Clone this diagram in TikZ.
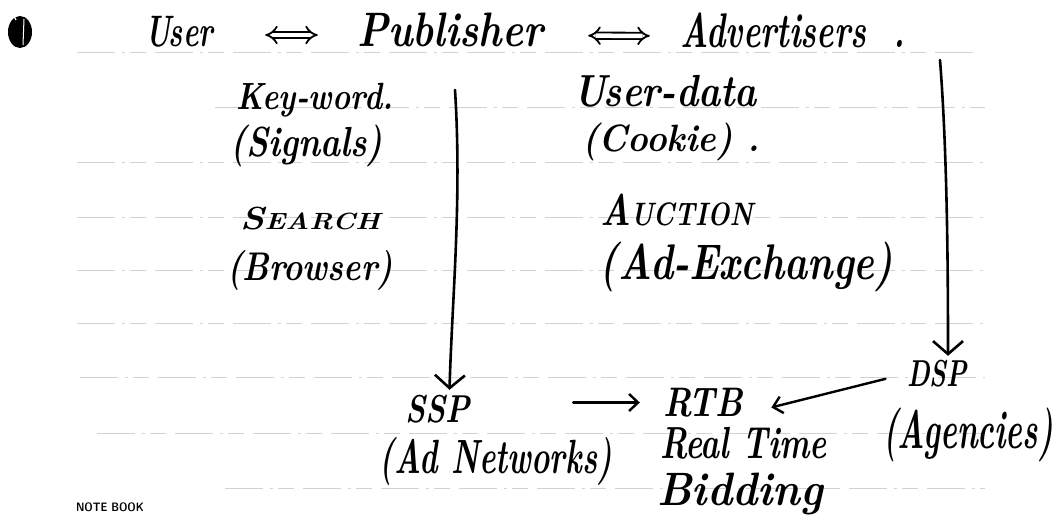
\documentclass[tikz,border=0pt]{standalone}
\usetikzlibrary{arrows.meta,calc}
\newcommand\hwbox[3]{\resizebox*{#1pt}{#2pt}{#3}}
\begin{document}
\begin{tikzpicture}[x=1pt,y=-1pt,
  hw/.style={font=\fontsize{30}{34}\selectfont\bfseries\itshape, inner sep=0pt},
  rule/.style={gray!35, line width=0.8pt, dash pattern=on 38pt off 7pt on 3pt off 5pt on 16pt off 9pt},
  conn/.style={line width=2.6pt, line cap=round, -{Straight Barb[length=13pt,width=30pt,line width=2.6pt]}},
  hconn/.style={line width=2.4pt, line cap=round, -{Straight Barb[length=9pt,width=17pt,line width=2.4pt]}},
  dbl/.style={double, double distance=4.5pt, line width=1.8pt, {Implies}-{Implies}}]
\useasboundingbox[fill=white] (0,0) rectangle (1059,519);
% notebook rules
\foreach \yy/\xa/\xb in {52/77/977,107/215/985,162/77/985,217/77/985,270/77/985,323/77/985,377/80/985,433/97/985,488/225/985}
  \draw[rule] (\xa,\yy) -- (\xb,\yy);
% hole mark
\fill[black] (20,32) ellipse (12 and 16);
\draw[white, line width=1.2pt] (16,20) arc (150:210:22);
\draw[white, line width=1pt] (24,19) -- (23,45);
% title row
\node[hw] (user) at (179,31.5) {\hwbox{68}{31}{User}};
\node[hw] (pub) at (450,30) {\hwbox{186}{34}{Publisher}};
\node[hw] (adv) at (792.5,30.5) {\hwbox{225}{35}{Advertisers\ \ .}};
\draw[dbl, shorten <=52pt, shorten >=39pt] ([yshift=-3.5pt]user.east) -- ([yshift=-5pt]pub.west);
\draw[dbl, shorten <=45pt, shorten >=30pt] ([yshift=-5.5pt]pub.east) -- ([yshift=-5.5pt]adv.west);
% left column
\node[hw] (kw) at (315,100) {\hwbox{156}{34}{Key-word.}};
\node[hw] (sig) at (306.5,146) {\hwbox{153}{42}{(Signals)}};
\node[hw] (search) at (310,218.5) {\hwbox{140}{23}{S{\fontsize{22}{24}\selectfont EARCH}}};
\node[hw] (brow) at (310,270) {\hwbox{166}{40}{(Browser)}};
% middle column
\node[hw] (ud) at (665,91) {\hwbox{184}{32}{User-data}};
\node[hw] (cook) at (671,141.5) {\hwbox{178}{38}{(Cookie)\ .}};
\node[hw] (auct) at (676.5,210) {\hwbox{153}{32}{A{\fontsize{22}{24}\selectfont UCTION}}};
\node[hw] (adx) at (746.5,267) {\hwbox{293}{50}{(Ad-Exchange)}};
% bottom
\node[hw] (ssp) at (437.5,409) {\hwbox{65}{28}{SSP}};
\node[hw] (adn) at (496,461.5) {\hwbox{232}{48}{(Ad Networks)}};
\node[hw] (rtb) at (703,402.5) {\hwbox{80}{29}{RTB}};
\node[hw] (rt) at (743.5,443) {\hwbox{167}{32}{Real Time}};
\node[hw] (bid) at (740,494) {\hwbox{166}{42}{Bidding}};
\node[hw] (dsp) at (937,373.5) {\hwbox{60}{27}{DSP}};
\node[hw] (agc) at (968,435) {\hwbox{170}{54}{(Agencies)}};
% connectors
\coordinate (ltop) at (455,90);
\coordinate (rtop) at (940,60);
\draw[conn] (ltop) .. controls (462,200) and (452,300) .. ($(ssp.north)+(12,-5)$);
\draw[conn] (rtop) .. controls (947,150) and (948,260) .. ($(dsp.north)+(11,-4)$);
\draw[hconn, shorten <=103pt, shorten >=23pt] (ssp.east |- rtb.west) -- (rtb.west);
\draw[hconn, shorten <=22pt, shorten >=29pt] (dsp.west) -- ($(rtb.east)+(0,12)$);
\node[font=\sffamily\bfseries, inner sep=0pt] (nb) at (110,507) {\hwbox{68}{9}{NOTE BOOK}};
\end{tikzpicture}
\end{document}
